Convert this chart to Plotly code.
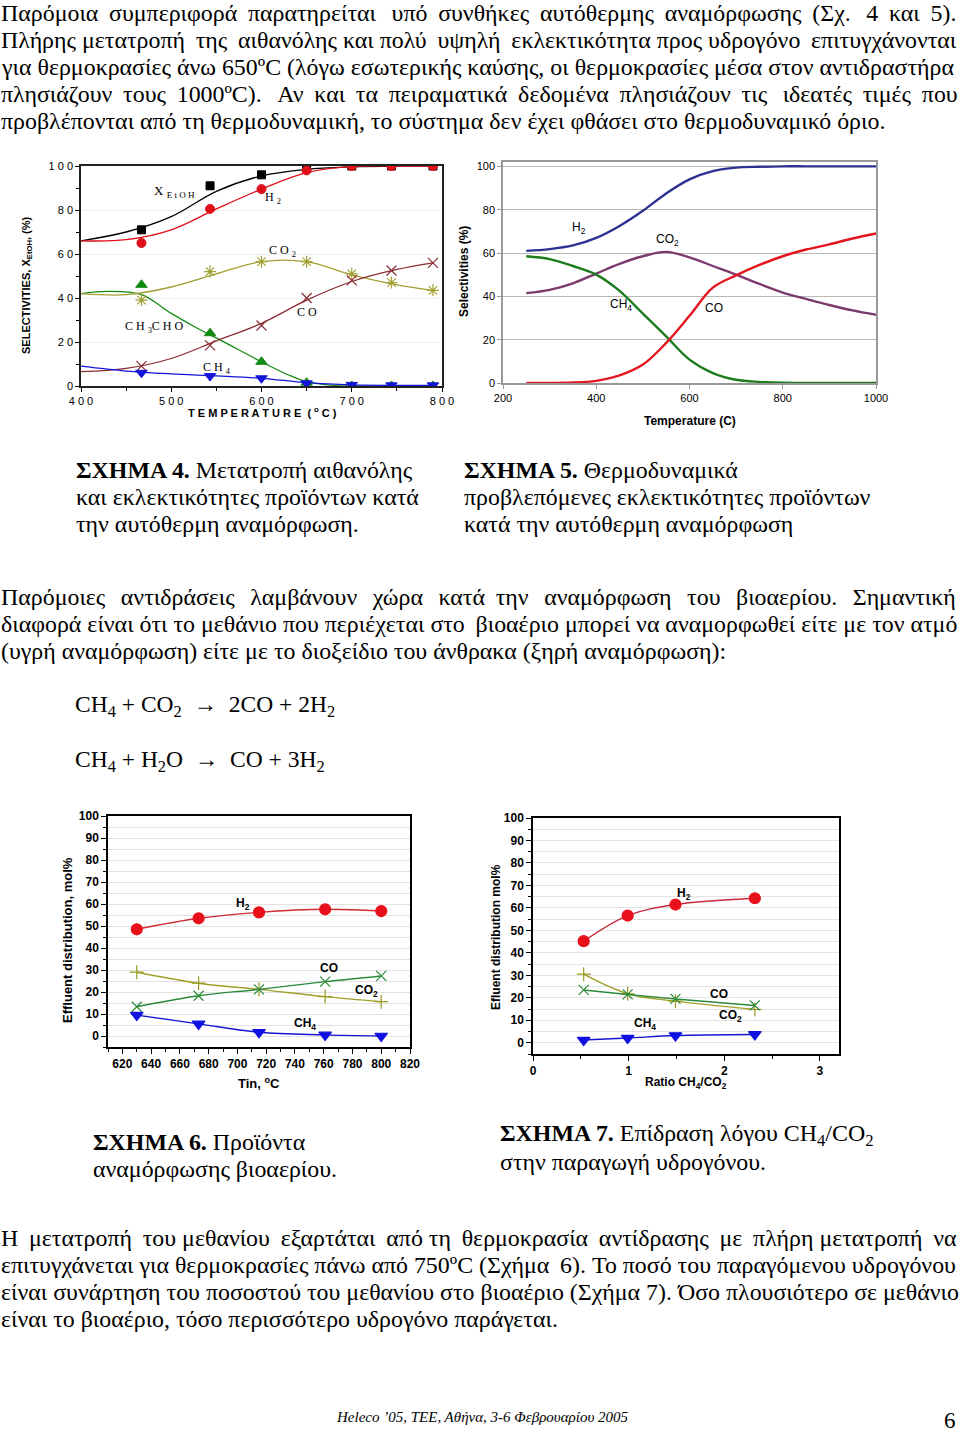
import plotly.graph_objects as go

W, H = 960, 1432

# ---------------- DATA ----------------
# Figure 4 (experimental, autothermal reforming of ethanol)
t4_pts = [467, 543, 600, 650, 700, 744, 790]
xetoh_pts = [71, 91, 96, 99, 100, 100, 100]
h2_4_pts = [65, 80.5, 89.5, 98, 100, 100, 100]
ch3cho_pts = [46, 24, 11, 1.5, 0, 0, 0]
co2_4_pts = [39, 52, 56.5, 56.5, 51, 47, 43.5]
co_4_pts = [9, 18.5, 27.5, 40, 48, 52.5, 56]
ch4_4_pts = [6, 4.5, 3.5, 1.2, 0.5, 0.3, 0.3]

t4_fit = [400, 450, 500, 550, 600, 650, 700, 750, 790]
xetoh_fit = [66, 70, 77, 88.5, 95.5, 98.5, 99.6, 100, 100]
h2_4_fit = [66, 66.5, 71, 80.5, 89.5, 97, 99.8, 100, 100]
co2_4_fit = [42, 41.5, 45, 51, 56.5, 56.5, 50.5, 46, 43.5]
co_4_fit = [6.5, 8, 12.5, 20.5, 28.5, 39, 47.5, 53, 56]
ch4_4_fit = [9, 6.8, 5.5, 4.6, 3.5, 1.5, 0.5, 0.3, 0.3]
t4_fit_ald = [400, 430, 467, 500, 530, 554, 600, 630, 650, 680, 700, 790]
ch3cho_fit = [42, 43, 41.5, 33, 26, 21, 11, 5, 2, 0.3, 0, 0]

# Figure 5 (thermodynamic predictions)
t5 = [250, 300, 350, 400, 450, 500, 550, 600, 650, 700, 750, 800, 850, 900, 950, 1000]
h2_5 = [61, 61.8, 63.5, 67, 72.5, 79.5, 87.5, 94, 97.8, 99.4, 99.8, 100, 100, 100, 100, 100]
co2_5 = [41.5, 43, 46, 50.5, 55, 58.5, 60.5, 58, 54, 50, 45.7, 41.7, 38.8, 36, 33.5, 31.5]
ch4_5 = [58.5, 57.2, 54, 50, 42.5, 32, 21.5, 10.8, 4.6, 1.5, 0.5, 0.1, 0, 0, 0, 0]
co_5 = [0, 0, 0.2, 1, 3.5, 8.5, 18.5, 31, 44, 49.7, 54.5, 58.5, 61.6, 64, 66.7, 69]

# Figure 6 (biogas reforming vs inlet temperature)
t6 = [630, 673, 715, 761, 800]
h2_6 = [48.5, 53.5, 56.2, 57.6, 56.8]
co2_6 = [29, 24, 21.2, 17.9, 15.6]
co_6 = [13.3, 18.3, 21.2, 24.7, 27.3]
ch4_6 = [9.5, 5.5, 1.7, 0.5, 0]

# Figure 7 (effect of CH4/CO2 ratio)
r7 = [0.53, 0.99, 1.49, 2.32]
h2_7 = [45.2, 56.6, 61.5, 64.3]
co2_7 = [30.5, 21.8, 18.5, 14.8]
co_7 = [23.5, 21.5, 19.5, 16.6]
ch4_7 = [1.2, 2.1, 3.2, 3.7]

# Tick labels
x4_vals = [400, 500, 600, 700, 800]
x4_text = ["4 0 0", "5 0 0", "6 0 0", "7 0 0", "8 0 0"]
y4_vals = [0, 20, 40, 60, 80, 100]
y4_text = ["0", "2 0", "4 0", "6 0", "8 0", "1 0 0"]

# Text
para1 = [
    "Παρόμοια συμπεριφορά παρατηρείται υπό συνθήκες αυτόθερμης αναμόρφωσης (Σχ. 4 και 5).",
    "Πλήρης μετατροπή της αιθανόλης και πολύ υψηλή εκλεκτικότητα προς υδρογόνο επιτυγχάνονται",
    "για θερμοκρασίες άνω 650ºC (λόγω εσωτερικής καύσης, οι θερμοκρασίες μέσα στον αντιδραστήρα",
    "πλησιάζουν τους 1000ºC). Αν και τα πειραματικά δεδομένα πλησιάζουν τις ιδεατές τιμές που",
    "προβλέπονται από τη θερμοδυναμική, το σύστημα δεν έχει φθάσει στο θερμοδυναμικό όριο.",
]
cap4 = ["<b>ΣΧΗΜΑ 4.</b> Μετατροπή αιθανόλης", "και εκλεκτικότητες προϊόντων κατά",
        "την αυτόθερμη αναμόρφωση."]
cap5 = ["<b>ΣΧΗΜΑ 5.</b> Θερμοδυναμικά", "προβλεπόμενες εκλεκτικότητες προϊόντων",
        "κατά την αυτόθερμη αναμόρφωση"]
para2 = [
    "Παρόμοιες αντιδράσεις λαμβάνουν χώρα κατά την αναμόρφωση του βιοαερίου. Σημαντική",
    "διαφορά είναι ότι το μεθάνιο που περιέχεται στο βιοαέριο μπορεί να αναμορφωθεί είτε με τον ατμό",
    "(υγρή αναμόρφωση) είτε με το διοξείδιο του άνθρακα (ξηρή αναμόρφωση):",
]
eq1 = "CH<sub>4</sub> + CO<sub>2</sub>  →  2CO + 2H<sub>2</sub>"
eq2 = "CH<sub>4</sub> + H<sub>2</sub>O  →  CO + 3H<sub>2</sub>"
cap6 = ["<b>ΣΧΗΜΑ 6.</b> Προϊόντα", "αναμόρφωσης βιοαερίου."]
cap7 = ["<b>ΣΧΗΜΑ 7.</b> Επίδραση λόγου CH<sub>4</sub>/CO<sub>2</sub>", "στην παραγωγή υδρογόνου."]
para3 = [
    "Η μετατροπή του μεθανίου εξαρτάται από τη θερμοκρασία αντίδρασης με πλήρη μετατροπή να",
    "επιτυγχάνεται για θερμοκρασίες πάνω από 750ºC (Σχήμα 6). Το ποσό του παραγόμενου υδρογόνου",
    "είναι συνάρτηση του ποσοστού του μεθανίου στο βιοαέριο (Σχήμα 7). Όσο πλουσιότερο σε μεθάνιο",
    "είναι το βιοαέριο, τόσο περισσότερο υδρογόνο παράγεται.",
]
footer = "<i>Heleco ’05, ΤΕΕ, Αθήνα, 3-6 Φεβρουαρίου 2005</i>"
page_no = "6"

# extra thin spaces per line to imitate the justified paragraphs (layout only)
just1 = [12, 5, 0, 14, 0]
just2 = [17, 1, 0]
just3 = [9, 1, 0, 0]

# ---------------- HELPERS ----------------
SERIF = "Liberation Serif"
SANS = "Liberation Sans"
BODY = 23.9


def justify(line, n_extra):
    words = line.split(" ")
    gaps = len(words) - 1
    if n_extra <= 0 or gaps <= 0:
        return line
    out = words[0]
    for i in range(gaps):
        k = round((i + 1) * n_extra / gaps) - round(i * n_extra / gaps)
        out += " " + "\u2009" * k + words[i + 1]
    return out


def xd(a, b):
    return [a / W, b / W]


def yd(top, bottom):
    return [1 - bottom / H, 1 - top / H]


def px(x):
    return x / W


def py(y):
    return 1 - y / H


annotations = []


def ann(text, x, y, size=BODY, family=SERIF, xanchor="left", yanchor="middle",
        angle=0, color="black", weight="normal"):
    annotations.append(dict(text=text, x=px(x), y=py(y), xref="paper", yref="paper",
                            xanchor=xanchor, yanchor=yanchor, showarrow=False,
                            textangle=angle, borderpad=0,
                            font=dict(family=family, size=size, color=color, weight=weight)))


fig = go.Figure()

# ---------------- FIGURE 4 ----------------
c_blk, c_red, c_grn, c_olv, c_brn, c_blu = "#000000", "#e0101a", "#138a13", "#a3a032", "#8b2b33", "#1414d8"
fits4 = [(t4_fit, xetoh_fit, c_blk), (t4_fit, h2_4_fit, c_red), (t4_fit_ald, ch3cho_fit, c_grn),
         (t4_fit, co2_4_fit, c_olv), (t4_fit, co_4_fit, c_brn), (t4_fit, ch4_4_fit, c_blu)]
for xs, ys, c in fits4:
    fig.add_trace(go.Scatter(x=xs, y=ys, mode="lines", line=dict(color=c, width=1.3, shape="spline"),
                             xaxis="x", yaxis="y", hoverinfo="skip"))
pts4 = [(xetoh_pts, c_blk, "square", 8, 1), (h2_4_pts, c_red, "circle", 9, 1),
        (ch3cho_pts, c_grn, "triangle-up", 10, 1), (co2_4_pts, c_olv, "asterisk-open", 10, 1.2),
        (co_4_pts, c_brn, "x-thin-open", 10, 1.2), (ch4_4_pts, c_blu, "triangle-down", 10, 1)]
for ys, c, sym, sz, lw in pts4:
    fig.add_trace(go.Scatter(x=t4_pts, y=ys, mode="markers",
                             marker=dict(color=c, symbol=sym, size=sz, line=dict(color=c, width=lw)),
                             xaxis="x", yaxis="y"))

# ---------------- FIGURE 5 ----------------
for ys, c in [(h2_5, "#2d3190"), (co2_5, "#7c3a6c"), (ch4_5, "#1c7c1c"), (co_5, "#e3151f")]:
    fig.add_trace(go.Scatter(x=t5, y=ys, mode="lines", line=dict(color=c, width=2.4, shape="spline"),
                             xaxis="x2", yaxis="y2"))

# ---------------- FIGURE 6 ----------------
series6 = [(h2_6, "#d02a34", "#e8101a", "circle", 11), (co2_6, "#a0a028", "#9a9a20", "cross-thin-open", 10),
           (co_6, "#2a8a3a", "#2a8a3a", "x-thin-open", 10), (ch4_6, "#1515d0", "#1010e0", "triangle-down", 11)]
for ys, lc, mc, sym, sz in series6:
    fig.add_trace(go.Scatter(x=t6, y=ys, mode="lines+markers",
                             line=dict(color=lc, width=1.4, shape="spline"),
                             marker=dict(color=mc, symbol=sym, size=sz, line=dict(color=mc, width=1.2)),
                             xaxis="x3", yaxis="y3"))

# ---------------- FIGURE 7 ----------------
series7 = [(h2_7, "#c82a3a", "#e8101a", "circle", 11), (co2_7, "#a0a028", "#9a9a20", "cross-thin-open", 10),
           (co_7, "#2a8a3a", "#2a8a3a", "x-thin-open", 10), (ch4_7, "#1515d0", "#1010e0", "triangle-down", 11)]
for ys, lc, mc, sym, sz in series7:
    fig.add_trace(go.Scatter(x=r7, y=ys, mode="lines+markers",
                             line=dict(color=lc, width=1.4, shape="spline"),
                             marker=dict(color=mc, symbol=sym, size=sz, line=dict(color=mc, width=1.2)),
                             xaxis="x4", yaxis="y4"))

# ---------------- AXES ----------------
tf_sans = dict(family=SANS, size=11, color="black")
tf_bold = dict(family=SANS, size=12, color="black", weight="bold")

layout = dict(
    width=W, height=H, margin=dict(l=0, r=0, t=0, b=0, pad=0, autoexpand=False),
    paper_bgcolor="white", plot_bgcolor="white", showlegend=False,
    xaxis=dict(domain=xd(81, 442), range=[400, 800], tickvals=x4_vals, ticktext=x4_text,
               ticks="outside", ticklen=4, tickcolor="black", showline=True, linecolor="#222",
               linewidth=1.5, mirror=True, showgrid=False, zeroline=False, tickfont=tf_sans,
               minor=dict(dtick=50, tick0=400, ticks="outside", ticklen=3, tickcolor="black"),
               anchor="y", automargin=False),
    yaxis=dict(domain=yd(166, 386), range=[0, 100], tickvals=y4_vals, ticktext=y4_text,
               ticks="outside", ticklen=4, tickcolor="black", showline=True, linecolor="#222",
               linewidth=1.5, mirror=True, showgrid=True, gridcolor="#eeeeee", zeroline=False,
               tickfont=tf_sans, minor=dict(dtick=10, ticks="outside", ticklen=3, tickcolor="black"),
               anchor="x", automargin=False),
    xaxis2=dict(domain=xd(503, 876), range=[200, 1000], tickvals=[200, 400, 600, 800, 1000],
                ticks="outside", ticklen=4, tickcolor="#999", showline=True, linecolor="#999",
                linewidth=1.5, mirror=True, showgrid=False, zeroline=False,
                tickfont=dict(family=SANS, size=11, color="black"), anchor="y2", automargin=False),
    yaxis2=dict(domain=yd(162, 383), range=[0, 102], tickvals=[0, 20, 40, 60, 80, 100],
                ticks="outside", ticklen=4, tickcolor="#999", showline=True, linecolor="#999",
                linewidth=1.5, mirror=True, showgrid=True, gridcolor="#b8b8b8", zeroline=False,
                tickfont=dict(family=SANS, size=11, color="black"), anchor="x2", automargin=False),
    xaxis3=dict(domain=xd(108, 410), range=[610, 820], tick0=620, dtick=20,
                ticks="outside", ticklen=5, tickcolor="black", showline=True, linecolor="black",
                linewidth=1.5, mirror=True, showgrid=False, zeroline=False, tickfont=tf_bold,
                minor=dict(dtick=10, tick0=610, ticks="outside", ticklen=3, tickcolor="black"),
                anchor="y3", automargin=False),
    yaxis3=dict(domain=yd(816, 1047), range=[-5, 100], tick0=0, dtick=10,
                ticks="outside", ticklen=5, tickcolor="black", showline=True, linecolor="black",
                linewidth=1.5, mirror=True, showgrid=True, gridcolor="#e2e2e2", zeroline=False,
                tickfont=tf_bold,
                minor=dict(dtick=5, tick0=0, ticks="outside", ticklen=3, tickcolor="black",
                           showgrid=True, gridcolor="#e2e2e2"),
                anchor="x3", automargin=False),
    xaxis4=dict(domain=xd(533, 839), range=[0, 3.2], tick0=0, dtick=1,
                ticks="outside", ticklen=5, tickcolor="black", showline=True, linecolor="black",
                linewidth=1.5, mirror=True, showgrid=False, zeroline=False, tickfont=tf_bold,
                minor=dict(dtick=0.5, tick0=0, ticks="outside", ticklen=3, tickcolor="black"),
                anchor="y4", automargin=False),
    yaxis4=dict(domain=yd(818, 1054), range=[-5, 100], tick0=0, dtick=10,
                ticks="outside", ticklen=5, tickcolor="black", showline=True, linecolor="black",
                linewidth=1.5, mirror=True, showgrid=True, gridcolor="#e2e2e2", zeroline=False,
                tickfont=tf_bold,
                minor=dict(dtick=5, tick0=0, ticks="outside", ticklen=3, tickcolor="black",
                           showgrid=True, gridcolor="#e2e2e2"),
                anchor="x4", automargin=False),
)

# ---------------- TEXT ----------------
for i, line in enumerate(para1):
    ann(justify(line, just1[i]), 0, 13 + 27 * i)
for i, line in enumerate(cap4):
    ann(line, 75, 470 + 27 * i)
for i, line in enumerate(cap5):
    ann(line, 463, 470 + 27 * i)
for i, line in enumerate(para2):
    ann(justify(line, just2[i]), 0, 597 + 27 * i)
ann(eq1, 74, 706, size=23.5)
ann(eq2, 74, 761, size=23.5)
for i, line in enumerate(cap6):
    ann(line, 92, 1142 + 27 * i)
for i, line in enumerate(cap7):
    ann(line, 499, 1135 + 27 * i)
for i, line in enumerate(para3):
    ann(justify(line, just3[i]), 0, 1238 + 27 * i)
ann(footer, 482, 1417, size=15, xanchor="center")
ann(page_no, 957, 1420, size=23, xanchor="right")

# Figure 4 labels
ann("X <sub>E t O H</sub>", 153, 192, size=13)
ann("H <sub>2</sub>", 264, 198, size=12)
ann("C O <sub>2</sub>", 268, 251, size=12)
ann("C O", 296, 312, size=12)
ann("C H <sub>3</sub>C H O", 124, 327, size=12)
ann("C H <sub>4</sub>", 202, 368, size=12)
ann("<b>T E M P E R A T U R E  ( <sup>o</sup> C )</b>", 262, 412, size=11, family=SANS, xanchor="center")
ann("<b>SELECTIVITIES, X<sub>EtOH</sub>, (%)</b>", 27, 285, size=11, family=SANS, xanchor="center", angle=-90)

# Figure 5 labels
ann("H<sub>2</sub>", 571, 228, size=12, family=SANS)
ann("CO<sub>2</sub>", 655, 240, size=12, family=SANS)
ann("CH<sub>4</sub>", 609, 305, size=12, family=SANS)
ann("CO", 704, 308, size=12, family=SANS)
ann("<b>Temperature (C)</b>", 690, 421, size=12, family=SANS, xanchor="center")
ann("<b>Selectivities (%)</b>", 464, 272, size=12, family=SANS, xanchor="center", angle=-90)

# Figure 6 labels
ann("<b>H<sub>2</sub></b>", 235, 904, size=12, family=SANS)
ann("<b>CO</b>", 319, 968, size=12, family=SANS)
ann("<b>CO<sub>2</sub></b>", 354, 991, size=12, family=SANS)
ann("<b>CH<sub>4</sub></b>", 293, 1024, size=12, family=SANS)
ann("<b>Tin, <sup>o</sup>C</b>", 259, 1083, size=13, family=SANS, xanchor="center")
ann("<b>Effluent distribution, mol%</b>", 68, 940, size=13, family=SANS, xanchor="center", angle=-90)

# Figure 7 labels
ann("<b>H<sub>2</sub></b>", 676, 894, size=12, family=SANS)
ann("<b>CO</b>", 709, 994, size=12, family=SANS)
ann("<b>CO<sub>2</sub></b>", 718, 1016, size=12, family=SANS)
ann("<b>CH<sub>4</sub></b>", 633, 1024, size=12, family=SANS)
ann("<b>Ratio CH<sub>4</sub>/CO<sub>2</sub></b>", 686, 1083, size=12, family=SANS, xanchor="center")
ann("<b>Efluent distribution mol%</b>", 496, 937, size=12, family=SANS, xanchor="center", angle=-90)

layout["annotations"] = annotations
fig.update_layout(**layout)
fig.write_html("out.html", config={"displayModeBar": False},
               post_script="document.body.style.margin='0';document.body.style.overflow='hidden';")
